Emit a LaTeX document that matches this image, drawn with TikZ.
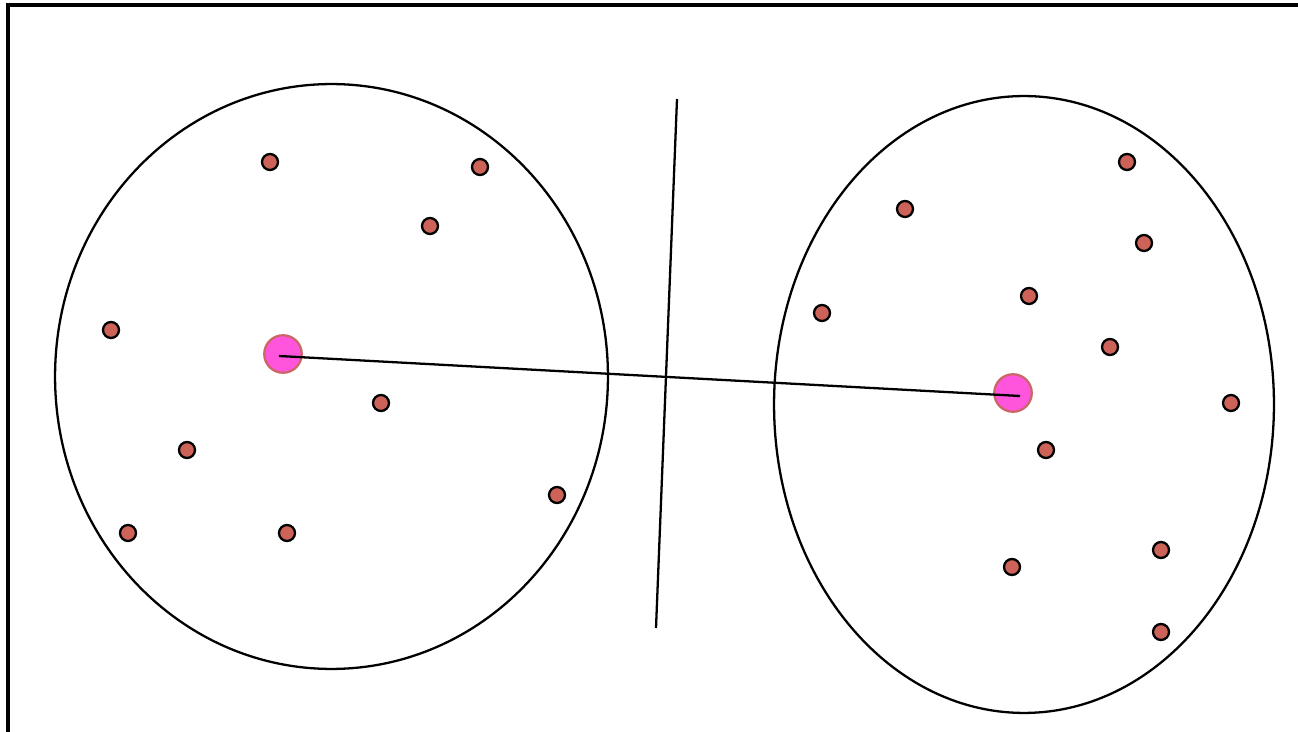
\documentclass[tikz,border=0pt]{standalone}
\usetikzlibrary{shapes.geometric}
\definecolor{cDot}{HTML}{CD6358}
\definecolor{cCent}{HTML}{FF55DD}
\definecolor{cCentEdge}{HTML}{CC6666}

\begin{document}
\begin{tikzpicture}[
  x=0.02cm, y=-0.02cm,
  dotpt/.style={circle, draw=black, fill=cDot, line width=1.3pt, inner sep=0pt, minimum size=0.32cm},
  cent/.style={circle, draw=cCentEdge, fill=cCent, line width=1.3pt, inner sep=0pt, minimum size=0.75cm},
  clus/.style={ellipse, draw, line width=1.3pt, inner sep=0pt},
  line width=1.3pt
]
\useasboundingbox (0,0) rectangle (1298,732);
% frame
\draw[line width=2pt] (8,740) -- (8,5) -- (1310,5);

% clusters
\node[clus, minimum width=11.06cm, minimum height=11.7cm] (A) at (331.5,376.5) {};
\node[clus, minimum width=10cm, minimum height=12.34cm] (B) at (1024,404.5) {};

% separating line
\coordinate (s1) at (677,99);
\coordinate (s2) at (656,628);
\draw (s1) -- (s2);

% points of cluster A
\foreach \px/\py [count=\i] in {270/162, 480/167, 430/226, 111/330, 381/403,
    187/450, 557/495, 128/533, 287/533}
  \node[dotpt] (a\i) at (\px,\py) {};

% points of cluster B
\foreach \px/\py [count=\i] in {1127/162, 905/209, 1144/243, 1029/296, 822/313,
    1110/347, 1231/403, 1046/450, 1161/550, 1012/567, 1161/632}
  \node[dotpt] (b\i) at (\px,\py) {};

% centroids
\node[cent] (cA) at (283,354) {};
\node[cent] (cB) at (1013,393) {};
\coordinate (eA) at (279,356);
\coordinate (eB) at (1020,396);
\draw (eA) -- (eB);
\end{tikzpicture}
\end{document}
